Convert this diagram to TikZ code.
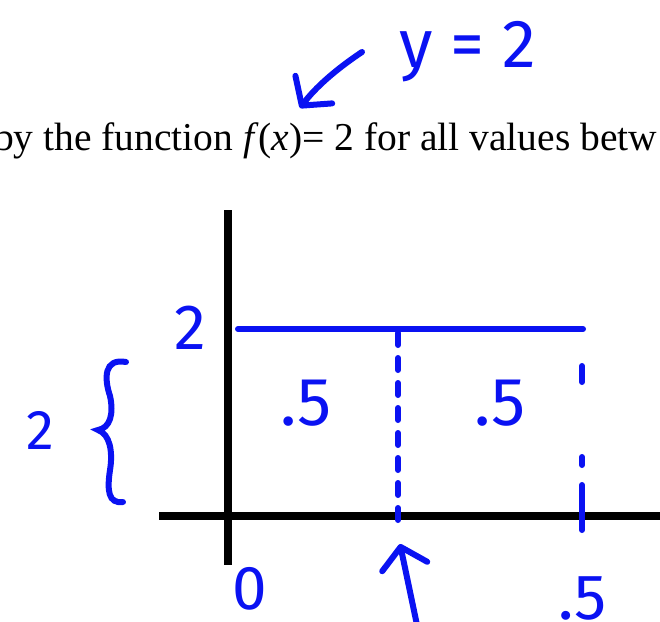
\documentclass[tikz,border=0pt]{standalone}
\usepackage{fontspec}
\setmainfont{Liberation Serif}
\newfontfamily\handfont{Fira Sans}
\usepackage{tikz}
\usetikzlibrary{arrows.meta, positioning}
\definecolor{InkBlue}{HTML}{0A12F2}
\tikzset{
  axisline/.style={line width=7.5pt, black},
  inkline/.style={line width=6pt, InkBlue, line cap=round},
  inkdash/.style={inkline, dash pattern=on 12pt off 13pt},
  inkarrow/.style={inkline, -{Straight Barb[length=20pt, width=46pt, round]}},
  inklabel/.style={text=InkBlue, inner sep=0pt, text depth=0pt, font=\handfont\fontsize{#1}{#1}\selectfont},
  printtext/.style={inner sep=0pt, font=\fontsize{39.5}{40}\selectfont}
}

\begin{document}
\begin{tikzpicture}[x=1pt, y=-1pt]
  \useasboundingbox (0,0) rectangle (660,621);
  \clip (0,0) rectangle (660,621);

  % printed line of the worksheet
  \node[printtext, anchor=base west] (line) at (-6,150) {by the function \textit{f}(\textit{x})= 2 for all values betw};
  \coordinate (fx) at (300,108);

  % axes
  \coordinate (ytop) at (228,210);
  \coordinate (ybot) at (228,565);
  \coordinate (xleft) at (159,516);
  \coordinate (xright) at (662,516);
  \draw[axisline] (ytop) -- (ybot);
  \draw[axisline] (xleft) -- (xright);

  % handwritten notes
  \node[inklabel=68] (yeq) at (468,44) {y = 2};
  \coordinate (yeqtail) at (362,52);
  \draw[inkarrow] (yeqtail) .. controls (335,70) and (315,88) .. (fx);

  \node[inklabel=64] (two) at (190,328) {2};
  \coordinate (lineL) at (238,329);
  \coordinate (lineR) at (583,329);
  \draw[inkline] (lineL) -- (lineR);

  \node[inklabel=56] (height) at (40,430) {2};
  \draw[inkline] (126,362) .. controls (104,358) and (104,378) .. (110,396)
    .. controls (114,414) and (110,428) .. (98,430)
    .. controls (110,434) and (113,452) .. (110,470)
    .. controls (107,490) and (108,504) .. (123,502);

  \node[inklabel=68] (halfA) at (306,403) {.5};
  \node[inklabel=68] (halfB) at (500,403) {.5};

  \coordinate (midtop) at (398,333);
  \coordinate (midbot) at (398,522);
  \coordinate (endtop) at (582,366);
  \coordinate (endbot) at (582,541);
  \draw[inkdash] (midtop) -- (midbot);
  \draw[inkline, dash pattern=on 16pt off 75pt on 8pt off 20pt on 45pt] (endtop) -- (endbot);

  \node[inklabel=62] (zero) at (250,588) {0};
  \node[inklabel=64] (halfC) at (583,598) {.5};
  \coordinate (uptail) at (417,625);
  \coordinate (uptip) at (400,544);
  \draw[inkarrow] (uptail) -- (uptip);
\end{tikzpicture}
\end{document}
